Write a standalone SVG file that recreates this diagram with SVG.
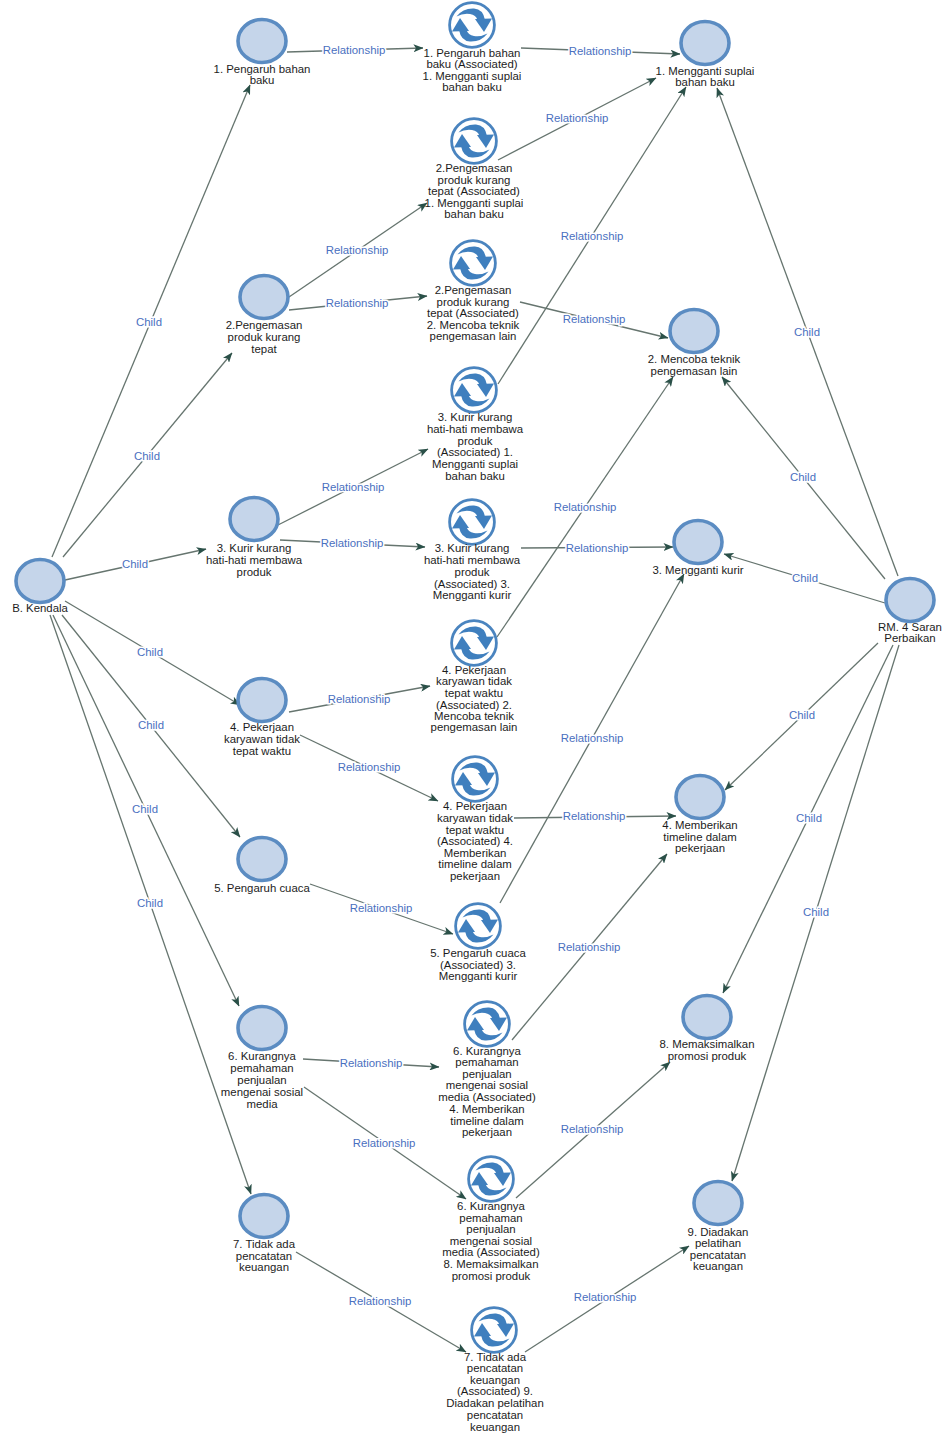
<svg xmlns="http://www.w3.org/2000/svg" width="945" height="1437" viewBox="0 0 945 1437">
<style>
text{font-family:"Liberation Sans",Arial,sans-serif;font-size:11.4px;fill:#1c1c1c;text-anchor:middle}
.n{fill:#c5d5ea;stroke:#5b8cc2;stroke-width:3.6}
.e{stroke:#66756f;stroke-width:1.3;fill:none;marker-end:url(#a)}
text.l{fill:#4a70c0;paint-order:stroke;stroke:#fff;stroke-width:3px}
</style>
<defs>
<marker id="a" viewBox="0 0 10 8" refX="9.5" refY="4" markerWidth="10" markerHeight="8" markerUnits="userSpaceOnUse" orient="auto"><path d="M0 0L10 4L0 8L2.5 4Z" fill="#2a5048"/></marker>
<symbol id="i" viewBox="-26 -26 52 52" overflow="visible">
<circle r="22.4" fill="#fff" stroke="#4a84bf" stroke-width="2.8"/>
<path d="M-15.5 -8.5Q-9 -17 2 -16.5Q11 -16 13 -5L5.5 -5Q4 -10 -2 -11Q-9 -12 -15.5 -8.5Z" fill="#3f7fbe"/>
<path d="M3 -6L20 -6.5L12 7Z" fill="#3f7fbe"/>
<path d="M15.5 8.5Q9 17 -2 16.5Q-11 16 -13 5L-5.5 5Q-4 10 2 11Q9 12 15.5 8.5Z" fill="#3f7fbe"/>
<path d="M-3 6L-20 6.5L-12 -7Z" fill="#3f7fbe"/>
</symbol>
</defs>
<rect width="945" height="1437" fill="#fff"/>
<g id="connectors">
<path class="e" d="M52 557L250 85"/><text class="l" x="149" y="326">Child</text>
<path class="e" d="M63 557L232 353"/><text class="l" x="147" y="460">Child</text>
<path class="e" d="M65 580L206 549"/><text class="l" x="135" y="568">Child</text>
<path class="e" d="M65 601L240 705"/><text class="l" x="150" y="656">Child</text>
<path class="e" d="M62 615L240 837"/><text class="l" x="151" y="729">Child</text>
<path class="e" d="M53 615L239 1006"/><text class="l" x="145" y="813">Child</text>
<path class="e" d="M50 615L251 1194"/><text class="l" x="150" y="907">Child</text>
<path class="e" d="M287 52L423 48"/><text class="l" x="354" y="54">Relationship</text>
<path class="e" d="M521 48L680 54"/><text class="l" x="600" y="55">Relationship</text>
<path class="e" d="M289 297L427 203"/><text class="l" x="357" y="254">Relationship</text>
<path class="e" d="M289 310L427 296"/><text class="l" x="357" y="307">Relationship</text>
<path class="e" d="M498 160L656 78"/><text class="l" x="577" y="122">Relationship</text>
<path class="e" d="M520 302L668 338"/><text class="l" x="594" y="323">Relationship</text>
<path class="e" d="M498 384L686 87"/><text class="l" x="592" y="240">Relationship</text>
<path class="e" d="M278 525L428 449"/><text class="l" x="353" y="491">Relationship</text>
<path class="e" d="M280 540L425 547"/><text class="l" x="352" y="547">Relationship</text>
<path class="e" d="M521 548L673 547"/><text class="l" x="597" y="552">Relationship</text>
<path class="e" d="M497 637L673 377"/><text class="l" x="585" y="511">Relationship</text>
<path class="e" d="M289 712L430 686"/><text class="l" x="359" y="703">Relationship</text>
<path class="e" d="M300 735L438 801"/><text class="l" x="369" y="771">Relationship</text>
<path class="e" d="M514 818L676 816"/><text class="l" x="594" y="820">Relationship</text>
<path class="e" d="M310 884L453 934"/><text class="l" x="381" y="912">Relationship</text>
<path class="e" d="M500 903L684 574"/><text class="l" x="592" y="742">Relationship</text>
<path class="e" d="M303 1059L439 1067"/><text class="l" x="371" y="1067">Relationship</text>
<path class="e" d="M304 1087L466 1199"/><text class="l" x="384" y="1147">Relationship</text>
<path class="e" d="M512 1040L667 854"/><text class="l" x="589" y="951">Relationship</text>
<path class="e" d="M516 1198L670 1062"/><text class="l" x="592" y="1133">Relationship</text>
<path class="e" d="M296 1252L466 1352"/><text class="l" x="380" y="1305">Relationship</text>
<path class="e" d="M525 1352L689 1246"/><text class="l" x="605" y="1301">Relationship</text>
<path class="e" d="M898 576L717 88"/><text class="l" x="807" y="336">Child</text>
<path class="e" d="M885 579L722 377"/><text class="l" x="803" y="481">Child</text>
<path class="e" d="M885 603L724 554"/><text class="l" x="805" y="582">Child</text>
<path class="e" d="M878 643L725 790"/><text class="l" x="802" y="719">Child</text>
<path class="e" d="M893 645L723 993"/><text class="l" x="809" y="822">Child</text>
<path class="e" d="M899 645L732 1181"/><text class="l" x="816" y="916">Child</text>
</g>
<g id="n-b"><ellipse class="n" cx="40" cy="581" rx="24" ry="21.5"/><text x="40" y="612">B. Kendala</text></g>
<g id="n-1"><ellipse class="n" cx="262" cy="41" rx="24" ry="21.5"/><text><tspan x="262" y="73">1. Pengaruh bahan</tspan><tspan x="262" y="84">baku</tspan></text></g>
<g id="n-2"><ellipse class="n" cx="264" cy="297" rx="24" ry="21.5"/><text><tspan x="264" y="329">2.Pengemasan</tspan><tspan x="264" y="341">produk kurang</tspan><tspan x="264" y="353">tepat</tspan></text></g>
<g id="n-3"><ellipse class="n" cx="254" cy="519" rx="24" ry="21.5"/><text><tspan x="254" y="552">3. Kurir kurang</tspan><tspan x="254" y="564">hati-hati membawa</tspan><tspan x="254" y="576">produk</tspan></text></g>
<g id="n-4"><ellipse class="n" cx="262" cy="700" rx="24" ry="21.5"/><text><tspan x="262" y="731">4. Pekerjaan</tspan><tspan x="262" y="743">karyawan tidak</tspan><tspan x="262" y="755">tepat waktu</tspan></text></g>
<g id="n-5"><ellipse class="n" cx="262" cy="859" rx="24" ry="21.5"/><text x="262" y="892">5. Pengaruh cuaca</text></g>
<g id="n-6"><ellipse class="n" cx="262" cy="1028" rx="24" ry="21.5"/><text><tspan x="262" y="1060">6. Kurangnya</tspan><tspan x="262" y="1072">pemahaman</tspan><tspan x="262" y="1084">penjualan</tspan><tspan x="262" y="1096">mengenai sosial</tspan><tspan x="262" y="1108">media</tspan></text></g>
<g id="n-7"><ellipse class="n" cx="264" cy="1216" rx="24" ry="21.5"/><text><tspan x="264" y="1248">7. Tidak ada</tspan><tspan x="264" y="1260">pencatatan</tspan><tspan x="264" y="1271">keuangan</tspan></text></g>
<g id="m-1"><use href="#i" x="446" y="-1" width="52" height="52"/><text><tspan x="472" y="57">1. Pengaruh bahan</tspan><tspan x="472" y="68">baku (Associated)</tspan><tspan x="472" y="80">1. Mengganti suplai</tspan><tspan x="472" y="91">bahan baku</tspan></text></g>
<g id="m-2"><use href="#i" x="448" y="115" width="52" height="52"/><text><tspan x="474" y="172">2.Pengemasan</tspan><tspan x="474" y="184">produk kurang</tspan><tspan x="474" y="195">tepat (Associated)</tspan><tspan x="474" y="207">1. Mengganti suplai</tspan><tspan x="474" y="218">bahan baku</tspan></text></g>
<g id="m-3"><use href="#i" x="447" y="237" width="52" height="52"/><text><tspan x="473" y="294">2.Pengemasan</tspan><tspan x="473" y="306">produk kurang</tspan><tspan x="473" y="317">tepat (Associated)</tspan><tspan x="473" y="329">2. Mencoba teknik</tspan><tspan x="473" y="340">pengemasan lain</tspan></text></g>
<g id="m-4"><use href="#i" x="448" y="364" width="52" height="52"/><text><tspan x="475" y="421">3. Kurir kurang</tspan><tspan x="475" y="433">hati-hati membawa</tspan><tspan x="475" y="445">produk</tspan><tspan x="475" y="456">(Associated) 1.</tspan><tspan x="475" y="468">Mengganti suplai</tspan><tspan x="475" y="480">bahan baku</tspan></text></g>
<g id="m-5"><use href="#i" x="446" y="496" width="52" height="52"/><text><tspan x="472" y="552">3. Kurir kurang</tspan><tspan x="472" y="564">hati-hati membawa</tspan><tspan x="472" y="576">produk</tspan><tspan x="472" y="588">(Associated) 3.</tspan><tspan x="472" y="599">Mengganti kurir</tspan></text></g>
<g id="m-6"><use href="#i" x="448" y="617" width="52" height="52"/><text><tspan x="474" y="674">4. Pekerjaan</tspan><tspan x="474" y="685">karyawan tidak</tspan><tspan x="474" y="697">tepat waktu</tspan><tspan x="474" y="709">(Associated) 2.</tspan><tspan x="474" y="720">Mencoba teknik</tspan><tspan x="474" y="731">pengemasan lain</tspan></text></g>
<g id="m-7"><use href="#i" x="449" y="753" width="52" height="52"/><text><tspan x="475" y="810">4. Pekerjaan</tspan><tspan x="475" y="822">karyawan tidak</tspan><tspan x="475" y="834">tepat waktu</tspan><tspan x="475" y="845">(Associated) 4.</tspan><tspan x="475" y="857">Memberikan</tspan><tspan x="475" y="868">timeline dalam</tspan><tspan x="475" y="880">pekerjaan</tspan></text></g>
<g id="m-8"><use href="#i" x="452" y="900" width="52" height="52"/><text><tspan x="478" y="957">5. Pengaruh cuaca</tspan><tspan x="478" y="969">(Associated) 3.</tspan><tspan x="478" y="980">Mengganti kurir</tspan></text></g>
<g id="m-9"><use href="#i" x="461" y="998" width="52" height="52"/><text><tspan x="487" y="1055">6. Kurangnya</tspan><tspan x="487" y="1066">pemahaman</tspan><tspan x="487" y="1078">penjualan</tspan><tspan x="487" y="1089">mengenai sosial</tspan><tspan x="487" y="1101">media (Associated)</tspan><tspan x="487" y="1113">4. Memberikan</tspan><tspan x="487" y="1125">timeline dalam</tspan><tspan x="487" y="1136">pekerjaan</tspan></text></g>
<g id="m-10"><use href="#i" x="465" y="1153" width="52" height="52"/><text><tspan x="491" y="1210">6. Kurangnya</tspan><tspan x="491" y="1222">pemahaman</tspan><tspan x="491" y="1233">penjualan</tspan><tspan x="491" y="1245">mengenai sosial</tspan><tspan x="491" y="1256">media (Associated)</tspan><tspan x="491" y="1268">8. Memaksimalkan</tspan><tspan x="491" y="1280">promosi produk</tspan></text></g>
<g id="m-11"><use href="#i" x="468" y="1304" width="52" height="52"/><text><tspan x="495" y="1361">7. Tidak ada</tspan><tspan x="495" y="1372">pencatatan</tspan><tspan x="495" y="1384">keuangan</tspan><tspan x="495" y="1395">(Associated) 9.</tspan><tspan x="495" y="1407">Diadakan pelatihan</tspan><tspan x="495" y="1419">pencatatan</tspan><tspan x="495" y="1431">keuangan</tspan></text></g>
<g id="r-1"><ellipse class="n" cx="705" cy="43" rx="24" ry="21.5"/><text><tspan x="705" y="75">1. Mengganti suplai</tspan><tspan x="705" y="86">bahan baku</tspan></text></g>
<g id="r-2"><ellipse class="n" cx="694" cy="331" rx="24" ry="21.5"/><text><tspan x="694" y="363">2. Mencoba teknik</tspan><tspan x="694" y="375">pengemasan lain</tspan></text></g>
<g id="r-3"><ellipse class="n" cx="698" cy="542" rx="24" ry="21.5"/><text x="698" y="574">3. Mengganti kurir</text></g>
<g id="r-4"><ellipse class="n" cx="700" cy="797" rx="24" ry="21.5"/><text><tspan x="700" y="829">4. Memberikan</tspan><tspan x="700" y="841">timeline dalam</tspan><tspan x="700" y="852">pekerjaan</tspan></text></g>
<g id="r-8"><ellipse class="n" cx="707" cy="1017" rx="24" ry="21.5"/><text><tspan x="707" y="1048">8. Memaksimalkan</tspan><tspan x="707" y="1060">promosi produk</tspan></text></g>
<g id="r-9"><ellipse class="n" cx="718" cy="1203" rx="24" ry="21.5"/><text><tspan x="718" y="1236">9. Diadakan</tspan><tspan x="718" y="1247">pelatihan</tspan><tspan x="718" y="1259">pencatatan</tspan><tspan x="718" y="1270">keuangan</tspan></text></g>
<g id="r-rm"><ellipse class="n" cx="910" cy="600" rx="24" ry="21.5"/><text><tspan x="910" y="631">RM. 4 Saran</tspan><tspan x="910" y="642">Perbaikan</tspan></text></g>
</svg>
